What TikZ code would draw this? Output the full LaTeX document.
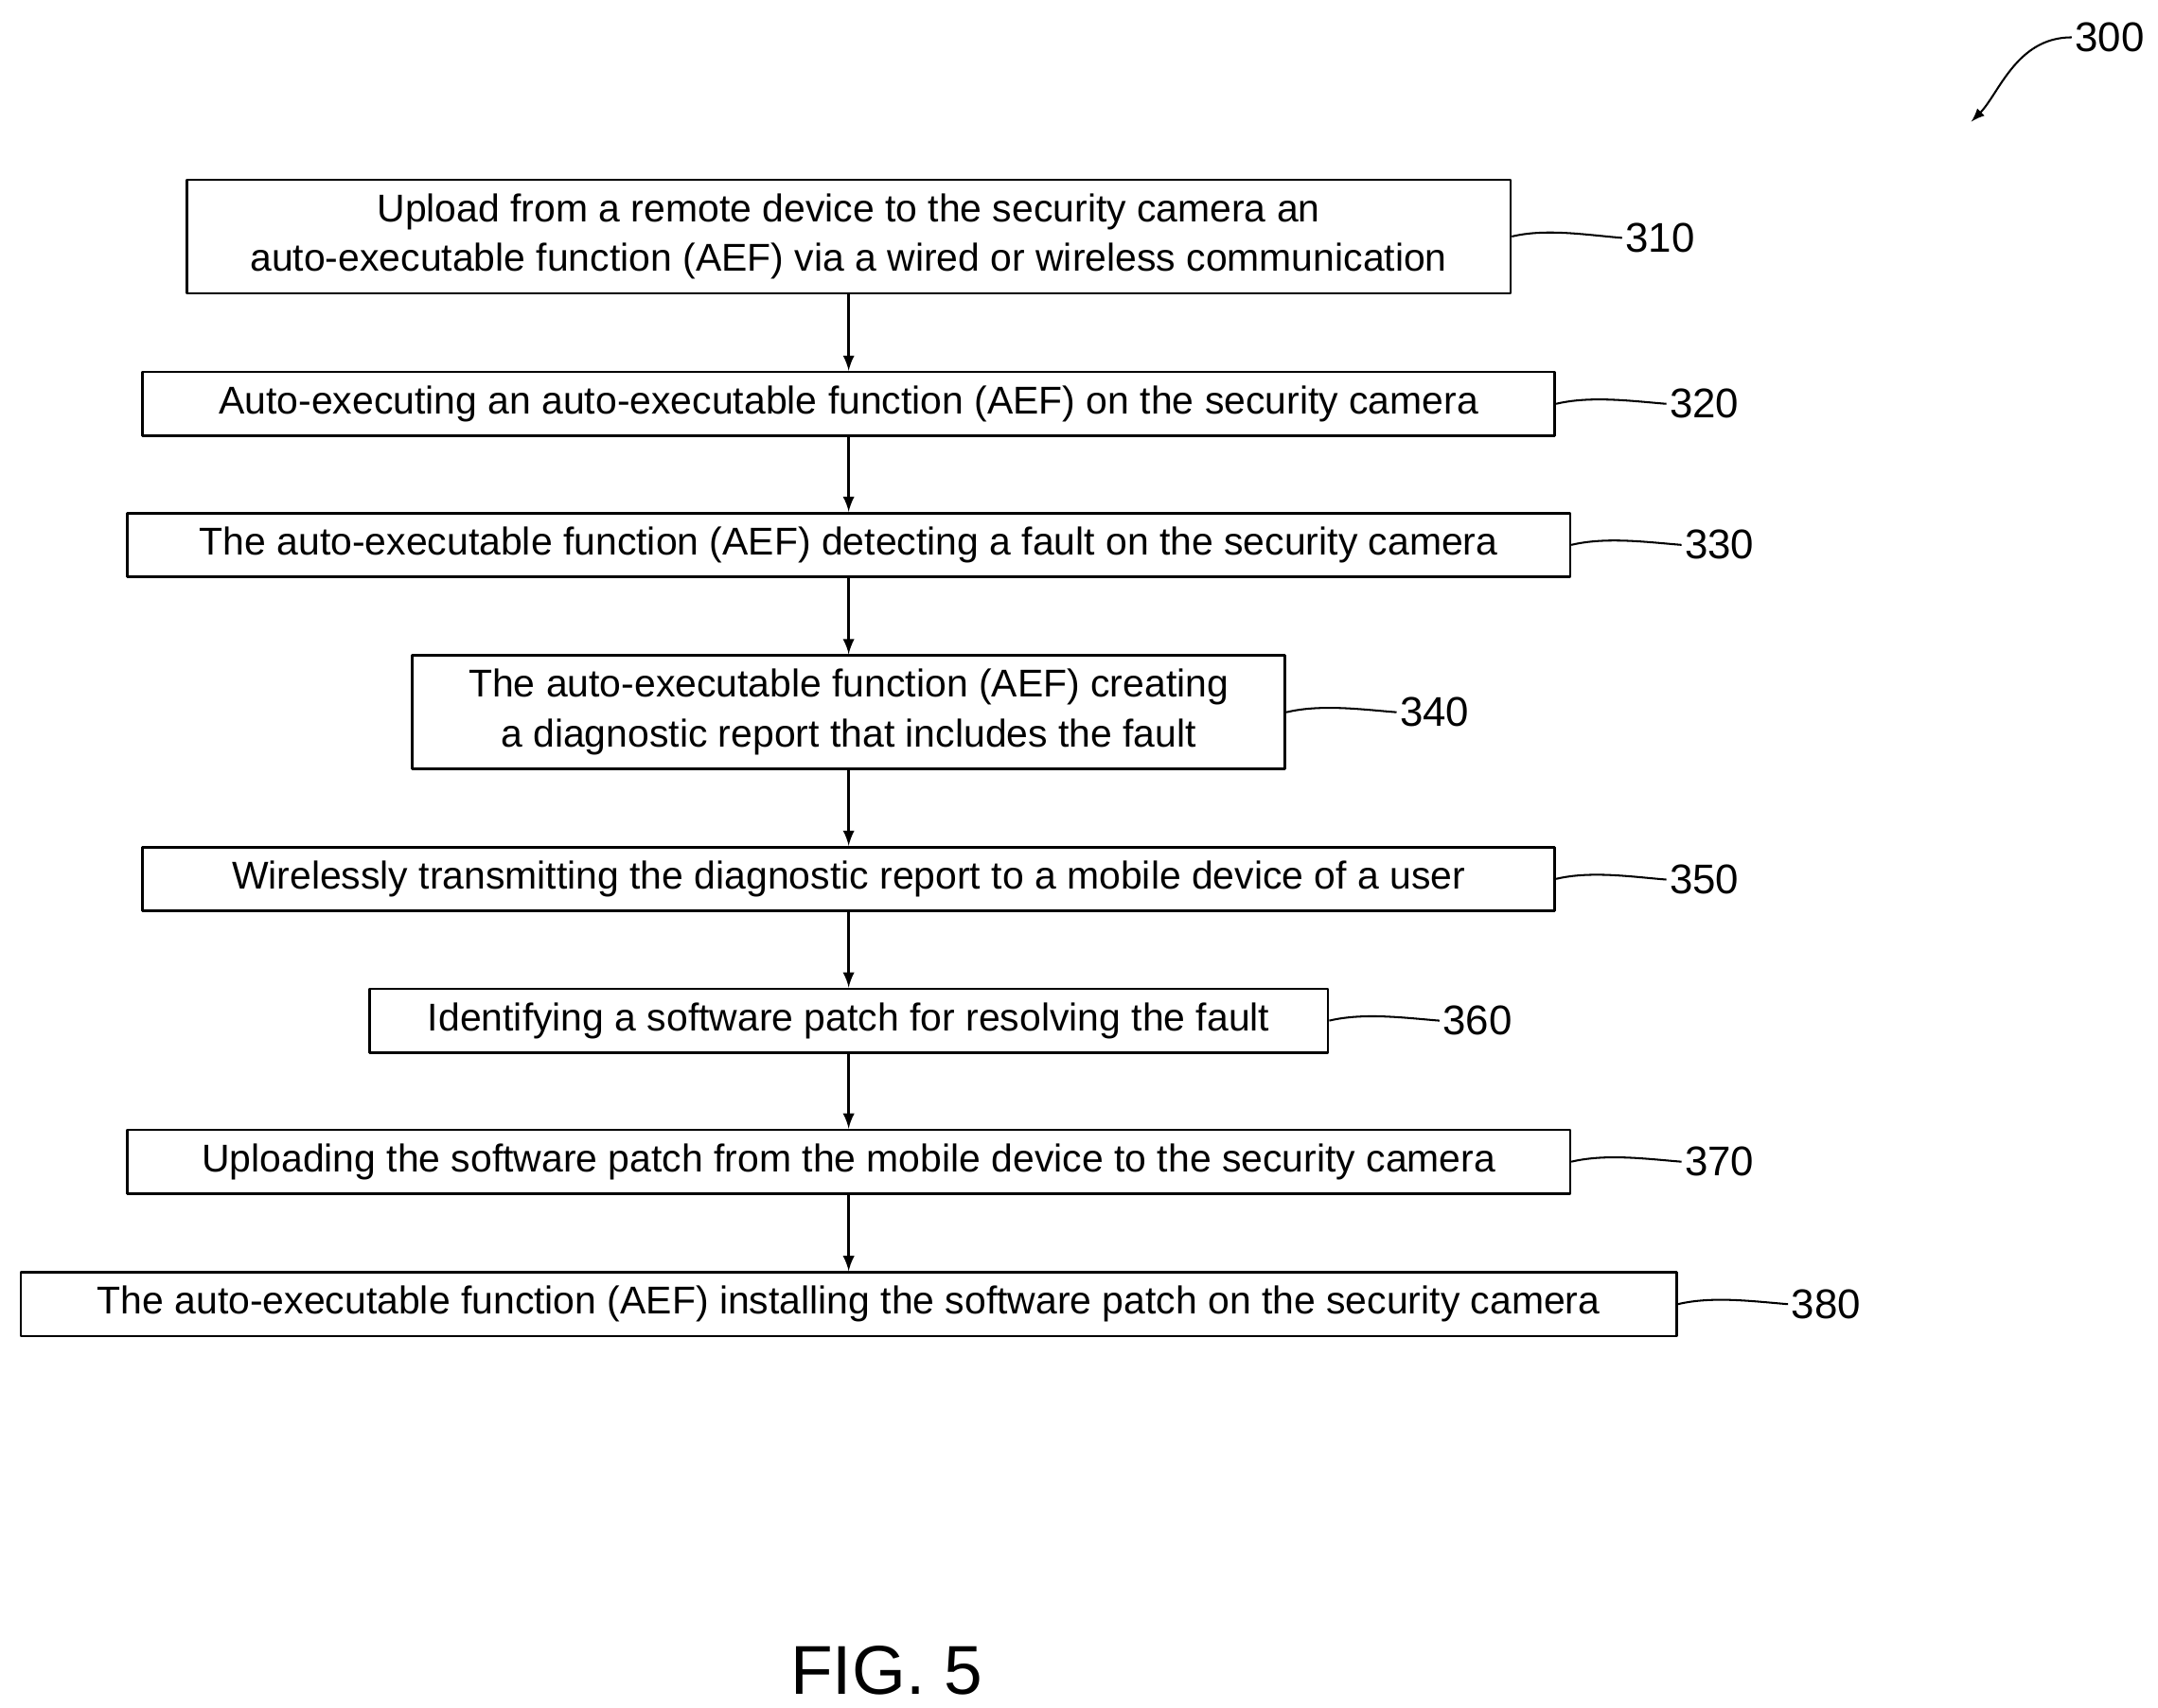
\documentclass[tikz,border=0pt]{standalone}
\usepackage{fontspec}
\setmainfont{Liberation Sans}
\begin{document}
\begin{tikzpicture}[x=0.5pt,y=-0.5pt,>=latex,line join=bevel,
  stepbox/.style={draw,line width=0.9pt,inner sep=0pt,align=center,font=\fontsize{14}{18}\selectfont},
  ref/.style={inner sep=1pt,font=\fontsize{15}{18}\selectfont},
  lead/.style={line width=0.7pt},
  flow/.style={->,line width=0.9pt}]
\useasboundingbox (0,0) rectangle (1560,1235);
%%
\node (step_310) at (613.5,171) [stepbox,minimum width=478.5pt,minimum height=41pt] {Upload from a remote device to the security camera an\\auto-executable function (AEF) via a wired or wireless communication};
\node (step_320) at (613.5,292) [stepbox,minimum width=510.5pt,minimum height=23pt] {Auto-executing an auto-executable function (AEF) on the security camera};
\node (step_330) at (613.5,394) [stepbox,minimum width=521.5pt,minimum height=23pt] {The auto-executable function (AEF) detecting a fault on the security camera};
\node (step_340) at (613.5,515) [stepbox,minimum width=315.5pt,minimum height=41pt] {The auto-executable function (AEF) creating\\a diagnostic report that includes the fault};
\node (step_350) at (613.5,635.5) [stepbox,minimum width=510.5pt,minimum height=23pt] {Wirelessly transmitting the diagnostic report to a mobile device of a user};
\node (step_360) at (613.5,738) [stepbox,minimum width=346.5pt,minimum height=23pt] {Identifying a software patch for resolving the fault};
\node (step_370) at (613.5,840) [stepbox,minimum width=521.5pt,minimum height=23pt] {Uploading the software patch from the mobile device to the security camera};
\node (step_380) at (613.5,943) [stepbox,minimum width=598.5pt,minimum height=23pt] {The auto-executable function (AEF) installing the software patch on the security camera};
%
\node (ref_310) at (1200,172) [ref] {310};
\node (ref_320) at (1232,292) [ref] {320};
\node (ref_330) at (1243,394) [ref] {330};
\node (ref_340) at (1037,515) [ref] {340};
\node (ref_350) at (1232,636) [ref] {350};
\node (ref_360) at (1068,738) [ref] {360};
\node (ref_370) at (1243,840) [ref] {370};
\node (ref_380) at (1320,943) [ref] {380};
\node (ref_300) at (1525,27) [ref] {300};
\node (fig) at (641,1208) [font=\fontsize{25}{30}\selectfont] {FIG. 5};
%
\foreach \a/\b in {310/320,320/330,330/340,340/350,350/360,360/370,370/380}
  \draw [flow] (step_\a) -- (step_\b);
\foreach \r in {310,320,330,340,350,360,370,380}
  \draw [lead] (step_\r.east) .. controls +(25,-6) and +(-25,-2) .. (ref_\r.west);
\coordinate (tip_300) at (1425,88);
\draw [lead,->] (ref_300.west) .. controls +(-40,0) and +(20,-20) .. (tip_300);
%
\end{tikzpicture}
\end{document}
